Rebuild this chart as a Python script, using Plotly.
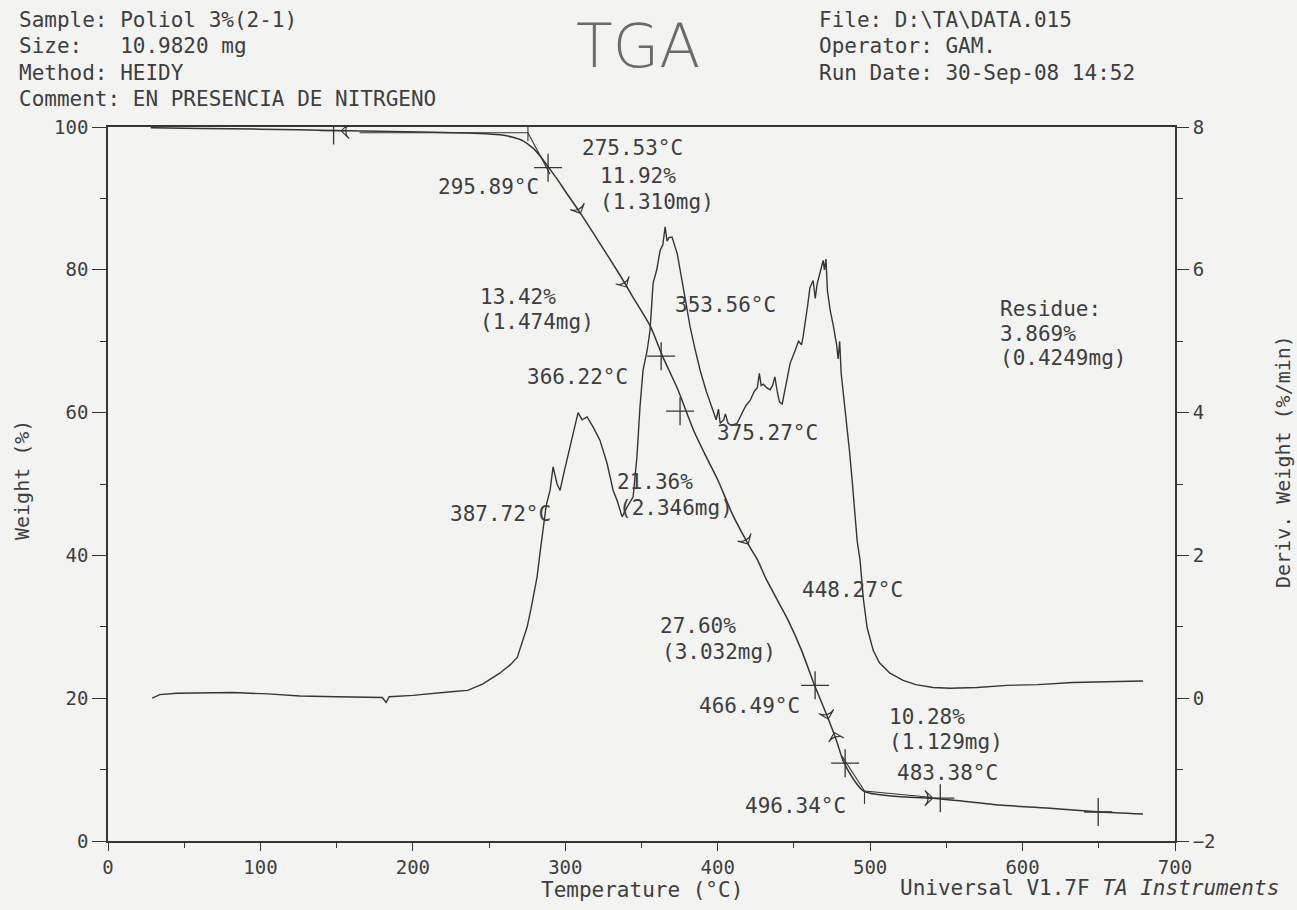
import plotly.graph_objects as go

# ---------------- data ----------------
weight_T = [28, 60, 100, 148, 205, 244, 257, 265, 272, 279, 284, 288.5, 295, 300, 310, 323, 336, 346, 356,
            364, 373.5, 384, 392, 400, 410, 421, 426, 432, 446, 455, 463, 472, 478, 482, 488, 495, 500, 508,
            520, 541, 560, 585, 620, 651, 679]
weight_W = [99.9, 99.8, 99.7, 99.5, 99.3, 99.1, 98.9, 98.6, 98.1, 97.0, 95.8, 94.5, 92.6, 91.0, 87.9, 83.6,
            79.2, 75.6, 72.0, 67.8, 63.4, 57.6, 54.0, 50.6, 45.6, 41.2, 39.4, 36.6, 31.0, 26.7, 22.1, 17.4,
            14.0, 11.4, 9.0, 7.1, 6.7, 6.44, 6.2, 6.0, 5.6, 5.04, 4.55, 4.06, 3.78]

deriv_T = [29, 34, 45, 60, 82, 105, 126, 150, 180, 182.4, 184.5, 200, 213, 225, 236, 246, 257, 264, 268.5,
           272.3, 275, 277.5, 279.5, 281.5, 283.5, 285.4, 287.5, 290, 292, 294.6, 296.6, 299, 301, 305, 308.4,
           311, 314.3, 318.2, 322.8, 327.4, 331.4, 334, 337.3, 340.6, 344.5, 347, 349, 351, 353.7, 355.6,
           357.6, 360, 362.2, 364, 365.5, 366.8, 368, 370, 373.4, 377.3, 381.9, 385, 388.5, 392.5, 397, 399,
           400.5, 401.6, 404, 405, 406.8, 409, 412.7, 415, 417, 418.5, 421.3, 424, 426, 427.3, 428.5, 430,
           432, 434.4, 436, 437.5, 439, 440.5, 442.3, 444, 447.5, 451, 453, 455, 456, 459, 460.5, 462.6, 464,
           465.2, 467, 469.2, 470, 471, 472, 473.8, 476, 478, 479, 480, 481, 484.9, 486.5, 488.2, 490, 491.5,
           493.4, 495.5, 498, 502, 506, 513, 521.6, 530, 541.3, 552.5, 570, 590, 610, 633, 655, 679]
deriv_D = [0.00, 0.05, 0.07, 0.07, 0.08, 0.06, 0.03, 0.02, 0.01, -0.06, 0.02, 0.04, 0.07, 0.09, 0.11, 0.20,
           0.35, 0.47, 0.57, 0.81, 1.00, 1.25, 1.45, 1.70, 2.05, 2.40, 2.70, 2.91, 3.24, 3.00, 2.91, 3.15,
           3.33, 3.66, 4.00, 3.90, 3.94, 3.80, 3.61, 3.29, 2.91, 2.77, 2.54, 2.68, 2.82, 3.38, 4.08, 4.59,
           4.87, 5.15, 5.81, 6.00, 6.27, 6.35, 6.60, 6.40, 6.45, 6.46, 6.23, 5.76, 5.20, 4.90, 4.59, 4.30,
           4.03, 3.90, 4.05, 3.85, 3.90, 3.98, 3.85, 3.82, 3.85, 3.95, 4.05, 4.10, 4.17, 4.30, 4.35, 4.55,
           4.38, 4.40, 4.35, 4.32, 4.38, 4.50, 4.30, 4.15, 4.12, 4.30, 4.69, 4.88, 5.00, 4.95, 5.06, 5.50,
           5.75, 5.85, 5.60, 5.80, 5.95, 6.13, 6.00, 6.15, 5.70, 5.43, 5.20, 4.95, 4.75, 5.00, 4.55, 3.80,
           3.45, 3.05, 2.60, 2.20, 1.93, 1.40, 0.99, 0.67, 0.50, 0.35, 0.25, 0.19, 0.15, 0.14, 0.15, 0.18,
           0.19, 0.22, 0.23, 0.24]

# analysis cross markers on the weight curve
cross_T = [148, 288.7, 362.9, 375.3, 463.9, 483.6, 546, 649.6]
cross_W = [99.5, 94.3, 67.9, 60.2, 21.8, 10.9, 6.0, 4.06]

# onset tangent constructions
onset1_T = [165, 275.5, 290]
onset1_W = [99.2, 99.2, 93.4]
onset1_tick_T = [275.5, 275.5]
onset1_tick_W = [100.0, 98.0]
onset2_T = [481.5, 496.3, 541]
onset2_W = [11.9, 7.0, 6.1]
onset2_tick_T = [496.3, 496.3]
onset2_tick_W = [7.0, 5.2]

# small direction arrows on the weight curve (T, W, angle)
arrow_T = [153, 310, 340, 420, 472.5, 476.5, 541]
arrow_W = [99.45, 87.9, 77.6, 41.6, 17.1, 15.2, 6.0]
arrow_ang = [-90, 155, 150, 150, 165, -15, 90]

# text labels (T, W, text, anchor)
labels = [
    (309.7, 97.1, "275.53°C", "left"),
    (284.0, 91.6, "295.89°C", "right"),
    (321.5, 93.1, "11.92%", "left"),
    (321.5, 89.5, "(1.310mg)", "left"),
    (242.8, 76.2, "13.42%", "left"),
    (242.8, 72.7, "(1.474mg)", "left"),
    (370.7, 75.1, "353.56°C", "left"),
    (273.6, 65.0, "366.22°C", "left"),
    (398.3, 57.1, "375.27°C", "left"),
    (332.7, 50.3, "21.36%", "left"),
    (334.0, 46.6, "(2.346mg)", "left"),
    (223.0, 45.8, "387.72°C", "left"),
    (454.0, 35.2, "448.27°C", "left"),
    (361.0, 30.1, "27.60%", "left"),
    (362.0, 26.5, "(3.032mg)", "left"),
    (386.5, 18.9, "466.49°C", "left"),
    (511.0, 17.4, "10.28%", "left"),
    (511.0, 13.9, "(1.129mg)", "left"),
    (516.4, 9.5, "483.38°C", "left"),
    (416.7, 4.9, "496.34°C", "left"),
    (584.0, 74.5, "Residue:", "left"),
    (584.0, 71.0, "3.869%", "left"),
    (584.0, 67.6, "(0.4249mg)", "left"),
]

header_left = ["Sample: Poliol 3%(2-1)", "Size:   10.9820 mg", "Method: HEIDY",
               "Comment: EN PRESENCIA DE NITRGENO"]
header_right = ["File: D:\\TA\\DATA.015", "Operator: GAM.", "Run Date: 30-Sep-08 14:52"]

# ---------------- layout helpers ----------------
W_PX, H_PX = 1297, 910
L, R, T_, B = 108, 1175, 127, 841


def px_x(px):
    return (px - L) / (R - L)


def px_y(py):
    return (B - py) / (B - T_)


INK = "#353535"
TXT = "#3e3e3e"
MONO = "DejaVu Sans Mono, Liberation Mono, monospace"
PAPER = "#f3f3f1"

fig = go.Figure()

fig.add_trace(go.Scatter(x=deriv_T, y=deriv_D, mode="lines", line=dict(color=INK, width=1.4), yaxis="y2",
                         hoverinfo="skip", showlegend=False))
fig.add_trace(go.Scatter(x=weight_T, y=weight_W, mode="lines",
                         line=dict(color=INK, width=1.5, shape="spline", smoothing=0.6),
                         hoverinfo="skip", showlegend=False))
for tx, wy in [(onset1_T, onset1_W), (onset1_tick_T, onset1_tick_W), (onset2_T, onset2_W),
               (onset2_tick_T, onset2_tick_W)]:
    fig.add_trace(go.Scatter(x=tx, y=wy, mode="lines", line=dict(color=INK, width=1.1),
                             hoverinfo="skip", showlegend=False))
fig.add_trace(go.Scatter(x=cross_T, y=cross_W, mode="markers",
                         marker=dict(symbol="cross-thin", size=20, line=dict(color=INK, width=1.3)),
                         hoverinfo="skip", showlegend=False))
fig.add_trace(go.Scatter(x=arrow_T, y=arrow_W, mode="markers",
                         marker=dict(symbol="arrow-wide-open", size=11, angle=arrow_ang,
                                     color=INK, line=dict(color=INK, width=1.1)),
                         hoverinfo="skip", showlegend=False))

annotations = []
for tx, wy, txt, anc in labels:
    annotations.append(dict(x=tx, y=wy, xref="x", yref="y", text=txt, showarrow=False,
                            xanchor=anc, yanchor="middle",
                            font=dict(family=MONO, size=21, color=TXT)))

for i, txt in enumerate(header_left):
    annotations.append(dict(x=px_x(17), y=px_y(20 + i * 26.4), xref="paper", yref="paper", text=txt,
                            showarrow=False, xanchor="left", yanchor="middle",
                            font=dict(family=MONO, size=21, color=TXT)))
for i, txt in enumerate(header_right):
    annotations.append(dict(x=px_x(817), y=px_y(20 + i * 26.4), xref="paper", yref="paper", text=txt,
                            showarrow=False, xanchor="left", yanchor="middle",
                            font=dict(family=MONO, size=21, color=TXT)))

annotations.append(dict(x=px_x(638), y=px_y(46), xref="paper", yref="paper", text="TGA",
                        showarrow=False, xanchor="center", yanchor="middle",
                        font=dict(family="DejaVu Sans, sans-serif", size=60, color="#6a6a6a", weight=200)))

annotations.append(dict(x=px_x(22), y=px_y(480), xref="paper", yref="paper", text="Weight (%)",
                        textangle=-90, showarrow=False, xanchor="center", yanchor="middle",
                        font=dict(family=MONO, size=20, color=TXT)))
annotations.append(dict(x=px_x(1283), y=px_y(462), xref="paper", yref="paper", text="Deriv. Weight (%/min)",
                        textangle=-90, showarrow=False, xanchor="center", yanchor="middle",
                        font=dict(family=MONO, size=20, color=TXT)))
annotations.append(dict(x=px_x(642), y=px_y(890), xref="paper", yref="paper", text="Temperature (°C)",
                        showarrow=False, xanchor="center", yanchor="middle",
                        font=dict(family=MONO, size=21, color=TXT)))
annotations.append(dict(x=px_x(1281), y=px_y(888), xref="paper", yref="paper",
                        text="Universal V1.7F <i>TA Instruments</i>",
                        showarrow=False, xanchor="right", yanchor="middle",
                        font=dict(family=MONO, size=21, color=TXT)))

fig.update_layout(
    width=W_PX, height=H_PX,
    margin=dict(l=L, r=W_PX - R, t=T_, b=H_PX - B, pad=0),
    paper_bgcolor=PAPER, plot_bgcolor=PAPER,
    showlegend=False,
    annotations=annotations,
    xaxis=dict(range=[0, 700], dtick=100, tick0=0, showgrid=False, zeroline=False,
               showline=True, linecolor=INK, linewidth=1.7, mirror=True,
               ticks="outside", ticklen=8, tickwidth=1.3, tickcolor=INK,
               minor=dict(dtick=50, ticks="outside", ticklen=5, tickcolor=INK, tickwidth=1.1),
               tickfont=dict(family=MONO, size=19, color=TXT)),
    yaxis=dict(range=[0, 100], dtick=20, showgrid=False, zeroline=False,
               showline=True, linecolor=INK, linewidth=1.7,
               ticks="outside", ticklen=14, tickwidth=1.3, tickcolor=INK,
               minor=dict(dtick=10, ticks="outside", ticklen=6, tickcolor=INK, tickwidth=1.1),
               tickfont=dict(family=MONO, size=19, color=TXT)),
    yaxis2=dict(range=[-2, 8], dtick=2, overlaying="y", side="right", showgrid=False, zeroline=False,
                showline=True, linecolor=INK, linewidth=1.7,
                ticks="outside", ticklen=12, tickwidth=1.3, tickcolor=INK,
                minor=dict(dtick=1, ticks="outside", ticklen=6, tickcolor=INK, tickwidth=1.1),
                tickfont=dict(family=MONO, size=19, color=TXT)),
)

fig.write_html("out.html")
